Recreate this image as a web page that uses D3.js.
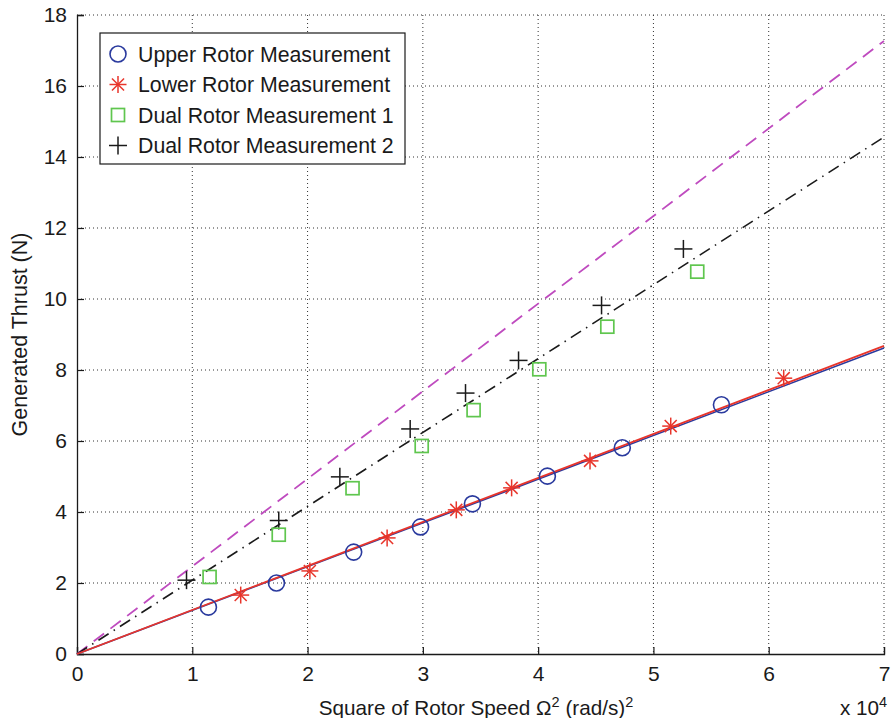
<!DOCTYPE html>
<html>
<head>
<meta charset="utf-8">
<script src="https://cdn.jsdelivr.net/npm/d3@7"></script>
<style>
  body { margin: 0; background: #fff; }
  text { font-family: "Liberation Sans", Arial, Helvetica, sans-serif; fill: #1a1a1a; }
</style>
</head>
<body>
<div class="holder"></div>
<script>
// data (x in units of 10^4 (rad/s)^2, thrust in N)
var upperX = [1.14, 1.73, 2.40, 2.98, 3.43, 4.08, 4.73, 5.59];
var upperY = [1.32, 2.00, 2.87, 3.58, 4.23, 5.01, 5.81, 7.02];
var lowerX = [1.42, 2.02, 2.69, 3.29, 3.77, 4.45, 5.15, 6.13];
var lowerY = [1.66, 2.34, 3.27, 4.06, 4.68, 5.44, 6.42, 7.77];
var dual1X = [1.15, 1.75, 2.39, 2.99, 3.44, 4.01, 4.60, 5.38];
var dual1Y = [2.17, 3.36, 4.67, 5.86, 6.87, 8.02, 9.22, 10.77];
var dual2X = [0.95, 1.75, 2.28, 2.89, 3.37, 3.83, 4.55, 5.26];
var dual2Y = [2.08, 3.76, 4.99, 6.34, 7.35, 8.27, 9.82, 11.41];

// fitted lines, end points
var fitX = [0, 7];
var fitUpper = [0, 8.62];
var fitLower = [0, 8.68];
var fitDual1 = [0, 17.27];
var fitDual2 = [0, 14.56];

var xTicks = [0, 1, 2, 3, 4, 5, 6, 7];
var yTicks = [0, 2, 4, 6, 8, 10, 12, 14, 16, 18];
var legendLabels = ["Upper Rotor Measurement", "Lower Rotor Measurement", "Dual Rotor Measurement 1", "Dual Rotor Measurement 2"];

var W = 893, H = 718;
var marginLeft = 77, marginTop = 15, marginRight = 9, marginBottom = 64;
var width = W - marginLeft - marginRight;
var height = H - marginTop - marginBottom;

var blue = "#2a3a9e", red = "#e8352b", green = "#5fc64e", magenta = "#bf4bbf", black = "#1a1a1a";

var svg = d3.select(".holder").append("svg")
    .attr("width", W)
    .attr("height", H);

var chart = svg.append("g")
    .attr("transform", "translate(" + marginLeft + "," + marginTop + ")");

var x = d3.scaleLinear().domain([0, 7]).range([0, width]);
var y = d3.scaleLinear().domain([0, 18]).range([height, 0]);

// dotted grid
chart.append("g").selectAll("line.gx")
    .data(xTicks.slice(1))
    .enter().append("line")
    .attr("x1", function(d) { return x(d); })
    .attr("x2", function(d) { return x(d); })
    .attr("y1", 0).attr("y2", height)
    .style("stroke", "#333").style("stroke-width", 1)
    .style("stroke-dasharray", "1,3");

chart.append("g").selectAll("line.gy")
    .data(yTicks.slice(1))
    .enter().append("line")
    .attr("x1", 0).attr("x2", width)
    .attr("y1", function(d) { return y(d); })
    .attr("y2", function(d) { return y(d); })
    .style("stroke", "#333").style("stroke-width", 1)
    .style("stroke-dasharray", "1,3");

// axes with inward ticks
var xAxis = chart.append("g")
    .attr("transform", "translate(0," + height + ")")
    .call(d3.axisBottom(x).tickValues(xTicks).tickSize(-7).tickPadding(12).tickFormat(d3.format("d")));
var yAxis = chart.append("g")
    .call(d3.axisLeft(y).tickValues(yTicks).tickSize(-7).tickPadding(10).tickFormat(d3.format("d")));

[xAxis, yAxis].forEach(function(a) {
    a.select(".domain").style("stroke", black).style("stroke-width", 1.3);
    a.selectAll(".tick line").style("stroke", black).style("stroke-width", 1.2);
    a.selectAll(".tick text")
        .style("font-family", "Liberation Sans, Arial, sans-serif")
        .style("font-size", "21px")
        .style("fill", black);
});

// fit lines
var line = d3.line()
    .x(function(d) { return x(d[0]); })
    .y(function(d) { return y(d[1]); });

function fitLine(ys, color, dash, w) {
    chart.append("path")
        .datum(fitX.map(function(v, i) { return [v, ys[i]]; }))
        .attr("d", line)
        .style("fill", "none")
        .style("stroke", color)
        .style("stroke-width", w)
        .style("stroke-dasharray", dash);
}

fitLine(fitDual1, magenta, "13,8", 1.8);
fitLine(fitDual2, black, "12,6,1.5,6", 1.6);
fitLine(fitUpper, blue, null, 1.6);
fitLine(fitLower, red, null, 1.8);

// marker shapes
function drawMarker(g, kind, cx, cy) {
    if (kind === "circle") {
        g.append("circle").attr("cx", cx).attr("cy", cy).attr("r", 8)
            .style("fill", "none").style("stroke", blue).style("stroke-width", 1.6);
    } else if (kind === "star") {
        var r = 8.5;
        [0, 45, 90, 135].forEach(function(a) {
            var rad = a * Math.PI / 180;
            g.append("line")
                .attr("x1", cx - r * Math.cos(rad)).attr("y1", cy - r * Math.sin(rad))
                .attr("x2", cx + r * Math.cos(rad)).attr("y2", cy + r * Math.sin(rad))
                .style("stroke", red).style("stroke-width", 1.5);
        });
    } else if (kind === "square") {
        g.append("rect").attr("x", cx - 6.5).attr("y", cy - 6.5).attr("width", 13).attr("height", 13)
            .style("fill", "none").style("stroke", green).style("stroke-width", 1.7);
    } else {
        var s = 9;
        g.append("line").attr("x1", cx - s).attr("x2", cx + s).attr("y1", cy).attr("y2", cy)
            .style("stroke", black).style("stroke-width", 1.5);
        g.append("line").attr("x1", cx).attr("x2", cx).attr("y1", cy - s).attr("y2", cy + s)
            .style("stroke", black).style("stroke-width", 1.5);
    }
}

function drawSeries(xs, ys, kind) {
    var g = chart.append("g");
    xs.forEach(function(v, i) { drawMarker(g, kind, x(v), y(ys[i])); });
}

drawSeries(dual2X, dual2Y, "plus");
drawSeries(dual1X, dual1Y, "square");
drawSeries(upperX, upperY, "circle");
drawSeries(lowerX, lowerY, "star");

// legend
var kinds = ["circle", "star", "square", "plus"];
var legend = svg.append("g").attr("transform", "translate(100,33)");
legend.append("rect")
    .attr("width", 305).attr("height", 131)
    .style("fill", "#fff").style("stroke", black).style("stroke-width", 1.2);
legendLabels.forEach(function(lab, i) {
    var ly = 21 + i * 30.5;
    drawMarker(legend, kinds[i], 18, ly);
    legend.append("text")
        .attr("x", 38).attr("y", ly)
        .attr("dy", "0.36em")
        .style("font-size", "21.3px")
        .text(lab);
});

// axis titles
var xt = svg.append("text")
    .attr("x", 476)
    .attr("y", 715)
    .attr("text-anchor", "middle")
    .style("font-size", "20.7px");
xt.append("tspan").text("Square of Rotor Speed \u03A9");
xt.append("tspan").attr("dy", -8).style("font-size", "14.5px").text("2");
xt.append("tspan").attr("dy", 8).text(" (rad/s)");
xt.append("tspan").attr("dy", -8).style("font-size", "14.5px").text("2");

var xm = svg.append("text")
    .attr("x", 840).attr("y", 715)
    .style("font-size", "20.7px");
xm.append("tspan").text("x 10");
xm.append("tspan").attr("dy", -8).style("font-size", "14.5px").text("4");

svg.append("text")
    .attr("transform", "translate(26.5," + (marginTop + height / 2) + ") rotate(-90)")
    .attr("text-anchor", "middle")
    .style("font-size", "21.5px")
    .text("Generated Thrust (N)");
</script>
</body>
</html>
